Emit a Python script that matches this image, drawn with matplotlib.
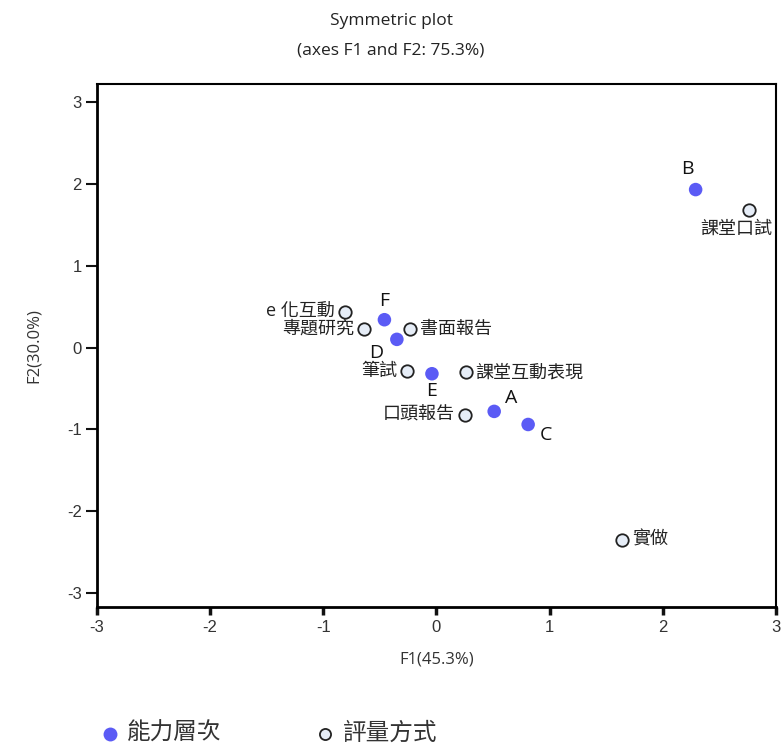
import matplotlib
matplotlib.use("Agg")
import matplotlib.pyplot as plt

plt.rcParams['font.family'] = ['Open Sans', 'Noto Sans CJK TC', 'DejaVu Sans']
plt.rcParams['axes.unicode_minus'] = False

# Active rows: ability levels
ability_labels = ['A', 'B', 'C', 'D', 'E', 'F']
ability_f1 = [0.51, 2.29, 0.81, -0.35, -0.04, -0.46]
ability_f2 = [-0.78, 1.93, -0.94, 0.10, -0.32, 0.34]

# Columns: assessment methods
method_labels = ['e 化互動', '專題研究', '書面報告', '筆試', '課堂互動表現', '口頭報告', '課堂口試', '實做']
method_f1 = [-0.81, -0.64, -0.23, -0.26, 0.26, 0.25, 2.76, 1.64]
method_f2 = [0.44, 0.23, 0.23, -0.29, -0.30, -0.82, 1.68, -2.35]

ability_offsets = {'A': (8, 3, 'left', 'bottom'), 'B': (-6, 8, 'center', 'bottom'),
                   'C': (8, -1, 'left', 'top'), 'D': (-10, -3, 'right', 'top'),
                   'E': (0, -6, 'center', 'top'), 'F': (0, 7, 'center', 'bottom')}
method_offsets = {'e 化互動': (-7, 0, 'right', 'center'), '專題研究': (-7, 0, 'right', 'center'),
                  '書面報告': (7, 0, 'left', 'center'), '筆試': (-7, 0, 'right', 'center'),
                  '課堂互動表現': (7, 0, 'left', 'center'), '口頭報告': (-7, 0, 'right', 'center'),
                  '課堂口試': (-9, -7, 'center', 'top'), '實做': (7, 0, 'left', 'center')}

fig = plt.figure(figsize=(7.82, 7.49), dpi=100)
ax = fig.add_axes([0.124, 1 - 607 / 749, 0.8683, (607 - 84) / 749])

ax.scatter(method_f1, method_f2, s=80, facecolor='#e6edf7', edgecolor='#222222', linewidth=1.3, zorder=3)
ax.scatter(ability_f1, ability_f2, s=95, facecolor='#5b5bf5', edgecolor='none', zorder=4)

for lab, x, y in zip(ability_labels, ability_f1, ability_f2):
    dx, dy, ha, va = ability_offsets[lab]
    ax.annotate(lab, (x, y), xytext=(dx, dy), textcoords='offset points', ha=ha, va=va,
                fontsize=14, color='#111111')
for lab, x, y in zip(method_labels, method_f1, method_f2):
    dx, dy, ha, va = method_offsets[lab]
    ax.annotate(lab, (x, y), xytext=(dx, dy), textcoords='offset points', ha=ha, va=va,
                fontsize=13, color='#222222')

ax.set_xlim(-3, 3)
ax.set_ylim(-3.17, 3.22)
ticks = [-3, -2, -1, 0, 1, 2, 3]
ax.set_xticks(ticks)
ax.set_yticks(ticks)
ax.tick_params(direction='out', colors='#111111', labelcolor='#333333',
               labelsize=12, labelfontfamily='Liberation Sans')
ax.tick_params(axis='x', length=6, width=2.5, pad=3)
ax.tick_params(axis='y', length=8, width=1.5, pad=3)
for s in ['left', 'bottom']:
    ax.spines[s].set_linewidth(2)
for s in ['top', 'right']:
    ax.spines[s].set_linewidth(1.5)
ax.set_xlabel('F1(45.3%)', fontsize=12, color='#333333', labelpad=12)
ax.set_ylabel('F2(30.0%)', fontsize=12, color='#333333', labelpad=18)

fig.text(0.5, 0.972, 'Symmetric plot', ha='center', va='center', fontsize=12.5, color='#222222')
fig.text(0.5, 0.933, '(axes F1 and F2: 75.3%)', ha='center', va='center', fontsize=12.5, color='#222222')

# legend
ly = 1 - 734 / 749
fig.lines.append(plt.Line2D([0.141], [ly], marker='o', markersize=10, color='#5b5bf5',
                            markeredgecolor='none', linestyle='none', transform=fig.transFigure))
fig.text(0.162, ly, '能力層次', ha='left', va='center', fontsize=17, color='#333333')
fig.lines.append(plt.Line2D([0.416], [ly], marker='o', markersize=8, markerfacecolor='#e6edf7',
                            markeredgecolor='#222222', markeredgewidth=1.3, linestyle='none',
                            transform=fig.transFigure))
fig.text(0.438, ly, '評量方式', ha='left', va='center', fontsize=17, color='#333333')

fig.savefig('out.png', dpi=100)
